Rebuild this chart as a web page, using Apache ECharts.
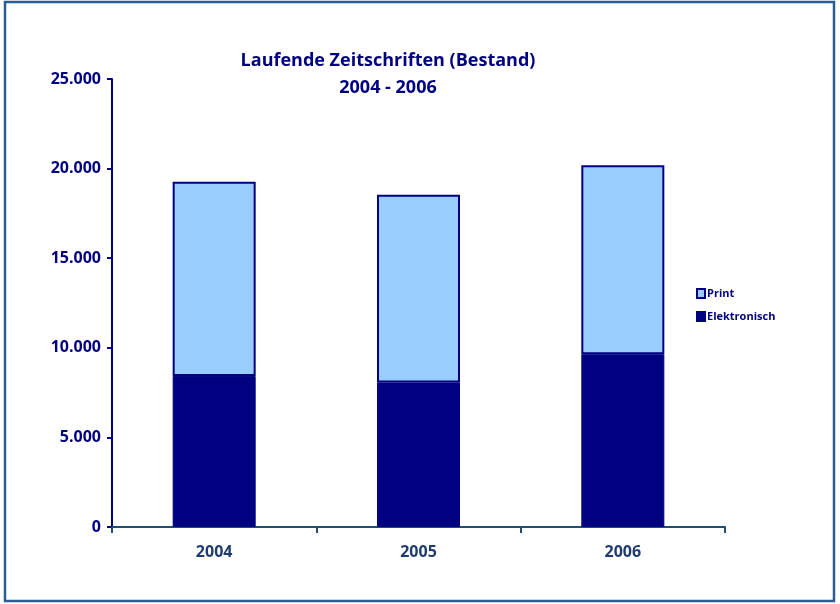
<!DOCTYPE html>
<html>
<head>
<meta charset="utf-8">
<script src="https://cdn.jsdelivr.net/npm/echarts@6/dist/echarts.min.js"></script>
<style>
  html, body { margin: 0; padding: 0; background: #fff; }
  #chart { width: 840px; height: 604px; }
</style>
</head>
<body>
<div id="chart"></div>
<script>
// Jahre und Bestand (aus dem Bild geschätzt)
const years = ["2004", "2005", "2006"];
const elektronisch = [8430, 8070, 9640];
const print = [10840, 10470, 10540];
const yTicks = [0, 5000, 10000, 15000, 20000, 25000];

const navy = "#000080";
const light = "#99CCFF";
const font = "Open Sans";

let mychart = echarts.init(document.getElementById("chart"));

let option = {
  animation: false,
  title: {
    text: "Laufende Zeitschriften (Bestand)\n2004 - 2006",
    left: 383,
    top: 42,
    textAlign: "center",
    textStyle: {
      color: navy,
      fontFamily: font,
      fontWeight: "bold",
      fontSize: 18,
      lineHeight: 27
    }
  },
  legend: {
    orient: "vertical",
    left: 691,
    top: 283,
    itemWidth: 8,
    itemHeight: 9,
    itemGap: 12,
    icon: "rect",
    data: ["Print", "Elektronisch"],
    textStyle: {
      color: navy,
      fontFamily: font,
      fontWeight: "bold",
      fontSize: 11,
      padding: [0, 0, 0, -3]
    }
  },
  grid: {
    left: 112,
    right: 115,
    top: 79,
    bottom: 77,
    containLabel: false
  },
  xAxis: {
    type: "category",
    data: years,
    axisLine: { lineStyle: { color: "#1F4E79", width: 2 } },
    axisTick: { show: true, length: 6, lineStyle: { color: "#1F4E79", width: 2 } },
    axisLabel: {
      color: "#1F3C6E",
      fontFamily: font,
      fontWeight: "bold",
      fontSize: 16,
      margin: 17
    }
  },
  yAxis: {
    type: "value",
    min: 0,
    max: 25000,
    interval: 5000,
    axisLine: { show: true, lineStyle: { color: navy, width: 2 } },
    axisTick: { show: true, length: 5, lineStyle: { color: navy, width: 2 } },
    splitLine: { show: false },
    axisLabel: {
      color: navy,
      fontFamily: font,
      fontWeight: "bold",
      fontSize: 16,
      margin: 11,
      formatter: function (v) {
        return yTicks.indexOf(v) >= 0 ? v.toLocaleString("de-DE") : "";
      }
    }
  },
  series: [
    {
      name: "Elektronisch",
      type: "bar",
      stack: "bestand",
      data: elektronisch,
      barWidth: 83,
      itemStyle: { color: navy, borderColor: navy, borderWidth: 1 }
    },
    {
      name: "Print",
      type: "bar",
      stack: "bestand",
      data: print,
      barWidth: 83,
      itemStyle: { color: light, borderColor: navy, borderWidth: 2 }
    }
  ],
  graphic: [
    {
      type: "rect",
      shape: { x: 5, y: 2, width: 829, height: 599 },
      style: { fill: null, stroke: "#2B5C93", lineWidth: 2.5 },
      silent: true
    }
  ]
};

mychart.setOption(option);
</script>
</body>
</html>
